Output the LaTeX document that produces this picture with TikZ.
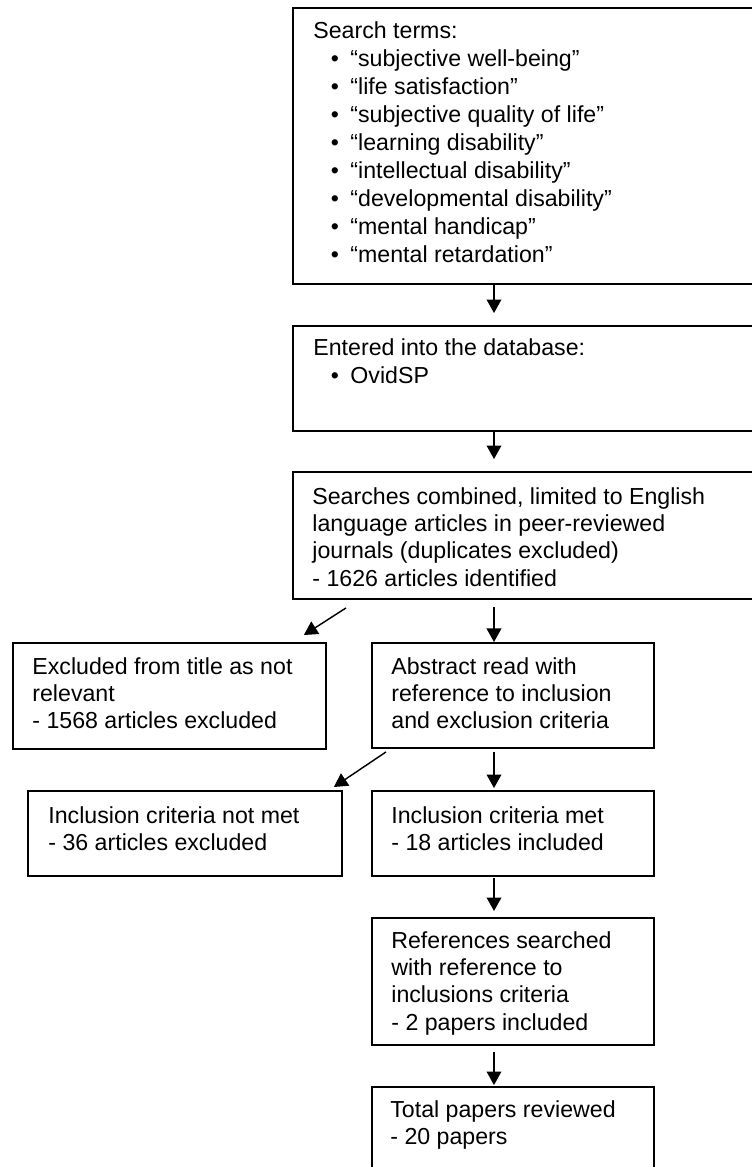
\documentclass[tikz,border=0pt]{standalone}
\usepackage{fontspec}
\setmainfont{Liberation Sans}
\usetikzlibrary{arrows.meta,calc}
\newcommand{\myb}[1]{\makebox[19.2pt][l]{\hspace{9pt}•}#1}
\newcommand{\lns}[1]{\begin{tabular}[t]{@{}l@{}}#1\end{tabular}}
\begin{document}
\begin{tikzpicture}[x=0.518pt, y=-0.518pt,
  box/.style={draw, line width=1pt, inner sep=0pt, anchor=north west},
  txt/.style={font=\fontsize{12}{14.2}\selectfont, inner sep=0pt, anchor=base west},
  arr/.style={-{Triangle[length=7pt,width=7.6pt]}, line width=0.75pt}]
\useasboundingbox (0,0) rectangle (751,1167);
\fill[white] (0,0) rectangle (751,1167);
\coordinate (mx) at (494,0);
% boxes
\node[box, minimum width=238.8pt, minimum height=142.97pt] (b1) at (292,7) {};
\node[box, minimum width=238.8pt, minimum height=54.39pt] (b2) at (292,325) {};
\node[box, minimum width=238.8pt, minimum height=65.79pt] (b3) at (292,471) {};
\node[box, minimum width=162.13pt, minimum height=54.91pt] (excl) at (12,642) {};
\node[box, minimum width=146.08pt, minimum height=54.39pt] (abs) at (371,642) {};
\node[box, minimum width=162.65pt, minimum height=44.03pt] (nm) at (27,790) {};
\node[box, minimum width=146.08pt, minimum height=44.03pt] (met) at (371,790) {};
\node[box, minimum width=146.08pt, minimum height=65.79pt] (ref) at (371,917) {};
\node[box, minimum width=146.08pt, minimum height=43.51pt] (tot) at (371,1086) {};
% texts
\node[txt, font=\fontsize{12}{14.45}\selectfont] (t1) at ($(b1.north west)+(21,32)$) {\lns{Search terms:\\
\myb{“subjective well-being”}\\
\myb{“life satisfaction”}\\
\myb{“subjective quality of life”}\\
\myb{“learning disability”}\\
\myb{“intellectual disability”}\\
\myb{“developmental disability”}\\
\myb{“mental handicap”}\\
\myb{“mental retardation”}}};
\node[txt] (t2) at ($(b2.north west)+(21,31)$) {\lns{Entered into the database:\\ \myb{OvidSP}}};
\node[txt] (t3) at ($(b3.north west)+(20,33)$) {\lns{Searches combined, limited to English\\language articles in peer-reviewed\\journals (duplicates excluded)\\- 1626 articles identified}};
\node[txt] (t4) at ($(excl.north west)+(20,32)$) {\lns{Excluded from title as not\\relevant\\- 1568 articles excluded}};
\node[txt] (t5) at ($(abs.north west)+(20,32)$) {\lns{Abstract read with\\reference to inclusion\\and exclusion criteria}};
\node[txt] (t6) at ($(nm.north west)+(21,33)$) {\lns{Inclusion criteria not met\\- 36 articles excluded}};
\node[txt] (t7) at ($(met.north west)+(20,33)$) {\lns{Inclusion criteria met\\- 18 articles included}};
\node[txt] (t8) at ($(ref.north west)+(20,31)$) {\lns{References searched\\with reference to\\inclusions criteria\\- 2 papers included}};
\node[txt] (t9) at ($(tot.north west)+(19,31)$) {\lns{Total papers reviewed\\- 20 papers}};
% arrows
\draw[arr, shorten >=6.2pt] (b1.south -| mx) -- (b2.north -| mx);
\draw[arr, shorten >=6.2pt] (b2.south -| mx) -- (b3.north -| mx);
\draw[arr] ($(b3.south west)+(54,8)$) -- ($(excl.north east)+(-23,-7)$);
\draw[arr, shorten <=3.6pt] (b3.south -| mx) -- (abs.north -| mx);
\draw[arr, shorten <=1.5pt, shorten >=1pt] (abs.south -| mx) -- (met.north -| mx);
\draw[arr] ($(abs.south west)+(15,3)$) -- ($(nm.north east)+(-9,-3)$);
\draw[arr, shorten <=0.5pt, shorten >=3.1pt] (met.south -| mx) -- (ref.north -| mx);
\draw[arr, shorten <=3.1pt, shorten >=0.5pt] (ref.south -| mx) -- (tot.north -| mx);
\end{tikzpicture}
\end{document}
